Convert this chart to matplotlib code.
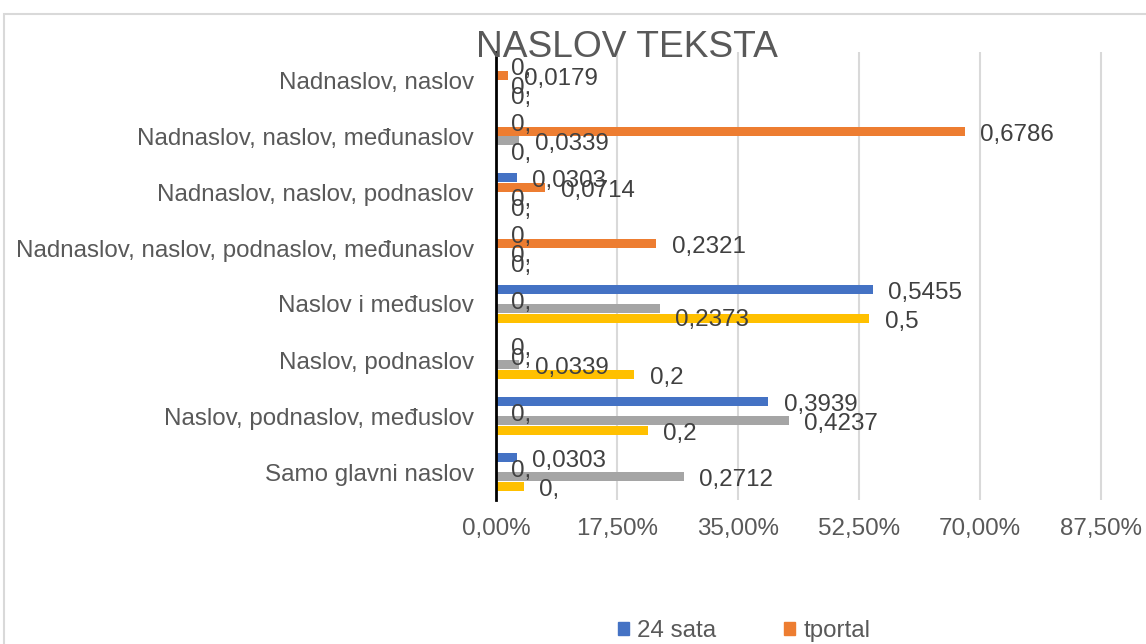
import numpy as np
import matplotlib.pyplot as plt
from matplotlib.patches import Patch, Rectangle
from matplotlib.ticker import FuncFormatter

plt.rcParams['font.family'] = ['Liberation Sans', 'DejaVu Sans']

categories = [
    "Nadnaslov, naslov",
    "Nadnaslov, naslov, međunaslov",
    "Nadnaslov, naslov, podnaslov",
    "Nadnaslov, naslov, podnaslov, međunaslov",
    "Naslov i međuslov",
    "Naslov, podnaslov",
    "Naslov, podnaslov, međuslov",
    "Samo glavni naslov",
]
sata24 = [0, 0, 0.0303, 0, 0.5455, 0, 0.3939, 0.0303]
tportal = [0.0179, 0.6786, 0.0714, 0.2321, 0, 0, 0, 0]
series3 = [0, 0.0339, 0, 0, 0.2373, 0.0339, 0.4237, 0.2712]
series4 = [0, 0, 0, 0, 0.54, 0.2, 0.22, 0.04]
# labels shown for the yellow series are rounded in the source
series4_labels = ["0,", "0,", "0,", "0,", "0,5", "0,2", "0,2", "0,"]

xticks = [0, 0.175, 0.35, 0.525, 0.70, 0.875]

colors = ['#4472C4', '#ED7D31', '#A5A5A5', '#FFC000']
txt = '#595959'
fs = 17.4


def fmt(v):
    if v == 0:
        return "0,"
    return ("%g" % v).replace('.', ',')


W, H = 1146, 644
fig = plt.figure(figsize=(W / 100, H / 100), dpi=100)
ax = fig.add_axes([496 / W, 1 - 500 / H, 650 / W, 448 / H])

n = len(categories)
y = np.arange(n)
h = 0.17
all_series = [sata24, tportal, series3, series4]
all_labels = [[fmt(v) for v in sata24], [fmt(v) for v in tportal],
              [fmt(v) for v in series3], series4_labels]

for i, (vals, labs) in enumerate(zip(all_series, all_labels)):
    yy = y + (i - 1.5) * h
    ax.barh(yy, vals, height=h * 0.95, color=colors[i], zorder=3)
    for k, (v, lab) in enumerate(zip(vals, labs)):
        dy = -2.5
        if i == 2 and k == 4:
            dy = -8
        ax.annotate(lab, (v, yy[k]), xytext=(11, dy), textcoords='offset points',
                    ha='left', va='center', fontsize=fs, color='#404040', zorder=5)

ax.set_ylim(n - 0.5, -0.5)
ax.set_xlim(0, 650 / 691.4)
ax.set_yticks(y)
ax.set_yticklabels(categories)
ax.set_xticks(xticks)
ax.xaxis.set_major_formatter(FuncFormatter(lambda v, p: ("%.2f%%" % (v * 100)).replace('.', ',')))
ax.tick_params(axis='y', length=0, pad=16, labelsize=fs, labelcolor=txt)
ax.tick_params(axis='x', length=0, pad=13, labelsize=fs, labelcolor=txt)
ax.grid(axis='x', color='#d9d9d9', linewidth=1.5, zorder=0)
for s in ['top', 'right', 'bottom']:
    ax.spines[s].set_visible(False)
ax.spines['left'].set_color('black')
ax.spines['left'].set_linewidth(2)
ax.spines['left'].set_zorder(4)
ax.patch.set_alpha(0)

fig.text(627 / W, 1 - 57 / H, "NASLOV TEKSTA", ha='center', va='baseline',
         fontsize=26.7, color=txt)

handles = [Patch(color=colors[0]), Patch(color=colors[1])]
fig.legend(handles, ["24 sata", "tportal"], loc='center', bbox_to_anchor=(744 / W, 1 - 631 / H),
           ncol=2, frameon=False, fontsize=fs, labelcolor=txt, handlelength=0.45,
           handleheight=0.45, handletextpad=0.35, columnspacing=2.8)

fig.patches.append(Rectangle((4 / W, -0.1), 1.2, 1 - 14 / H + 0.1, transform=fig.transFigure,
                             fill=False, edgecolor='#d9d9d9', linewidth=1.5))

fig.savefig('out.png', dpi=100)
